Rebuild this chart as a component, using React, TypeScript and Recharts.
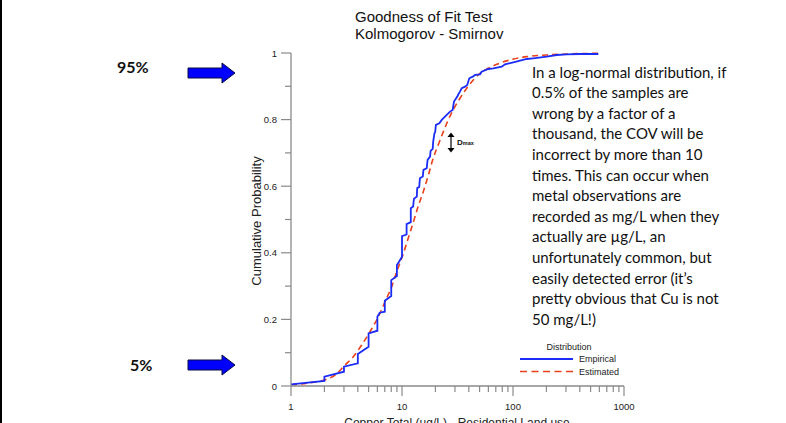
import { ComposedChart, Line, XAxis, YAxis } from 'recharts';

// empirical CDF (sorted values vs. rank fraction); ties give the vertical jumps
const empX = [1, 2, 2, 3, 3, 4, 4, 5, 5, 6, 6, 6.3, 7, 7, 8, 8, 9, 9, 9.4, 10, 10, 11, 11, 12, 12,
  12.6, 12.8, 13.6, 13.7, 14.3, 14.5, 15.4, 15.6, 16.7, 17, 17.9, 18.1, 18.9, 19.1, 19.6, 19.9, 20.2,
  21.7, 22.8, 25.3, 27.1, 28.6, 29.4, 31.5, 32.2, 33.3, 34.5, 37, 38.7, 40.4, 43.4, 45.5, 50.4, 52.2,
  59.9, 66.5, 79.1, 84.7, 100.7, 133, 152, 201, 248, 305, 401, 587];
const empP = [0.005, 0.015, 0.028, 0.043, 0.058, 0.068, 0.096, 0.118, 0.158, 0.166, 0.208, 0.22, 0.223,
  0.256, 0.27, 0.318, 0.33, 0.363, 0.373, 0.388, 0.45, 0.455, 0.486, 0.492, 0.534,
  0.539, 0.562, 0.569, 0.594, 0.598, 0.624, 0.629, 0.649, 0.654, 0.679, 0.689, 0.706, 0.712, 0.734, 0.759,
  0.762, 0.784, 0.789, 0.799, 0.814, 0.824, 0.829, 0.854, 0.869, 0.876, 0.884, 0.894, 0.899, 0.904, 0.924,
  0.929, 0.934, 0.936, 0.944, 0.952, 0.954, 0.959, 0.966, 0.972, 0.982, 0.984, 0.989, 0.994, 0.996, 0.997,
  0.997];

// fitted log-normal CDF
const estX = [1, 1.5, 2, 2.5, 3.07, 3.64, 4.33, 5.15, 6.12, 7.03, 8.07, 8.95, 10.3, 11.6, 12.6, 14, 15.6,
  17.3, 19.1, 21.2, 23.6, 26.1, 29.4, 33.3, 38.3, 43.9, 50.4, 59.9, 71.3, 94, 133, 201, 305, 587];
const estP = [0.003, 0.01, 0.018, 0.033, 0.063, 0.088, 0.123, 0.163, 0.208, 0.253, 0.298, 0.343, 0.398,
  0.453, 0.49, 0.54, 0.585, 0.634, 0.684, 0.724, 0.764, 0.799, 0.834, 0.864, 0.894, 0.919, 0.939, 0.954,
  0.966, 0.979, 0.989, 0.994, 0.997, 0.999];

const xTicks = [1, 2, 3, 4, 5, 6, 7, 8, 9, 10, 20, 30, 40, 50, 60, 70, 80, 90, 100,
  200, 300, 400, 500, 600, 700, 800, 900, 1000];
const xLabels = [1, 10, 100, 1000];
const yTicks = [0, 0.1, 0.2, 0.3, 0.4, 0.5, 0.6, 0.7, 0.8, 0.9, 1];
const yLabels = [0, 0.2, 0.4, 0.6, 0.8, 1];

const noteLines = [
  'In a log-normal distribution, if',
  '0.5% of the samples are',
  'wrong by a factor of a',
  'thousand, the COV will be',
  'incorrect by more than 10',
  'times. This can occur when',
  'metal observations are',
  'recorded as mg/L when they',
  'actually are µg/L, an',
  'unfortunately common, but',
  'easily detected error (it’s',
  'pretty obvious that Cu is not',
  '50 mg/L!)',
];

const empirical = empX.map((x, i) => ({ x, p: empP[i] }));
const estimated = estX.map((x, i) => ({ x, p: estP[i] }));

const axisColor = '#8a8a8a';
const arial = '"Liberation Sans", Arial, sans-serif';

function XTick({ x, y, payload }: any) {
  const major = xLabels.includes(payload.value);
  return (
    <g>
      <line x1={x} x2={x} y1={y} y2={y + (major ? 10 : 6)} stroke={axisColor} strokeWidth={1.2} />
      {major && (
        <text x={x} y={y + 24} textAnchor="middle" fontSize={9.5} fontFamily={arial} fill="#222">
          {payload.value}
        </text>
      )}
    </g>
  );
}

function YTick({ x, y, payload }: any) {
  const major = yLabels.some(v => Math.abs(v - payload.value) < 1e-6);
  return (
    <g>
      <line x1={x - (major ? 10 : 6)} x2={x} y1={y} y2={y} stroke={axisColor} strokeWidth={1.2} />
      {major && (
        <text x={x - 14} y={y + 3.5} textAnchor="end" fontSize={9.5} fontFamily={arial} fill="#222">
          {payload.value}
        </text>
      )}
    </g>
  );
}

function BlockArrow({ y }: { y: number }) {
  const pts = [
    [188, y - 5], [222, y - 5], [222, y - 10], [235, y], [222, y + 10], [222, y + 5], [188, y + 5],
  ].map(p => p.join(',')).join(' ');
  return <polygon points={pts} fill="#0000ff" stroke="#0a0a40" strokeWidth={1} />;
}

export default function App() {
  return (
    <div style={{ position: 'absolute', left: 0, top: 0, width: 786, height: 423, overflow: 'hidden', background: '#fff' }}>
      <ComposedChart width={786} height={423} margin={{ top: 53, right: 162, left: 0, bottom: 0 }}>
        <XAxis
          dataKey="x"
          type="number"
          scale="log"
          domain={[1, 1000]}
          allowDataOverflow
          ticks={xTicks}
          interval={0}
          height={37}
          tickSize={0}
          tickMargin={0}
          tick={<XTick />}
          tickLine={false}
          axisLine={{ stroke: axisColor, strokeWidth: 1.3 }}
        />
        <YAxis
          dataKey="p"
          type="number"
          domain={[0, 1]}
          ticks={yTicks}
          interval={0}
          width={291}
          tickSize={0}
          tickMargin={0}
          tick={<YTick />}
          tickLine={false}
          axisLine={{ stroke: axisColor, strokeWidth: 1.3 }}
        />
        <Line data={estimated} dataKey="p" type="monotone" stroke="#e8401c" strokeWidth={1.6}
          strokeDasharray="6 4" dot={false} isAnimationActive={false} />
        <Line data={empirical} dataKey="p" type="linear" stroke="#1a2cf5" strokeWidth={1.8}
          dot={false} isAnimationActive={false} />
      </ComposedChart>

      <svg width={786} height={423} style={{ position: 'absolute', left: 0, top: 0, pointerEvents: 'none' }}>
        <line x1={1} x2={1} y1={0} y2={423} stroke="#000" strokeWidth={2} />
        <text x={355} y={22} fontSize={15} fontFamily={arial} fill="#111">Goodness of Fit Test</text>
        <text x={355} y={39} fontSize={15} fontFamily={arial} fill="#111">Kolmogorov - Smirnov</text>

        <text x={258} y={221} transform="rotate(-90 258 221)" textAnchor="middle" dominantBaseline="middle"
          fontSize={13} fontFamily={arial} fill="#222">Cumulative Probability</text>
        <text x={457} y={427} textAnchor="middle" fontSize={12} fontFamily={arial} fill="#222">
          Copper Total (µg/L) - Residential Land use
        </text>

        <text x={117} y={73} fontSize={16} fontWeight={700} fontFamily="Lato, sans-serif" fill="#111">95%</text>
        <BlockArrow y={73} />
        <text x={130} y={371} fontSize={16} fontWeight={700} fontFamily="Lato, sans-serif" fill="#111">5%</text>
        <BlockArrow y={365} />

        <line x1={451} x2={451} y1={135} y2={150} stroke="#000" strokeWidth={1.2} />
        <polygon points="447.5,137 451,132.5 454.5,137" fill="#000" />
        <polygon points="447.5,148 451,152.5 454.5,148" fill="#000" />
        <text x={457} y={145} fontSize={8} fontWeight={700} fontFamily={arial} fill="#111">
          D<tspan fontSize={5.5}>max</tspan>
        </text>

        {noteLines.map((t, i) => (
          <text key={i} x={532} y={77.5 + i * 20.6} fontSize={15} fontFamily="Lato, sans-serif" fill="#111">{t}</text>
        ))}

        <text x={569} y={350} textAnchor="middle" fontSize={9} fontFamily={arial} fill="#222">Distribution</text>
        <line x1={520} x2={573} y1={359} y2={359} stroke="#1a2cf5" strokeWidth={1.8} />
        <text x={579} y={362} fontSize={9} fontFamily={arial} fill="#222">Empirical</text>
        <line x1={520} x2={573} y1={371.5} y2={371.5} stroke="#e8401c" strokeWidth={1.6} strokeDasharray="7 4.5" />
        <text x={579} y={374.5} fontSize={9} fontFamily={arial} fill="#222">Estimated</text>
      </svg>
    </div>
  );
}
